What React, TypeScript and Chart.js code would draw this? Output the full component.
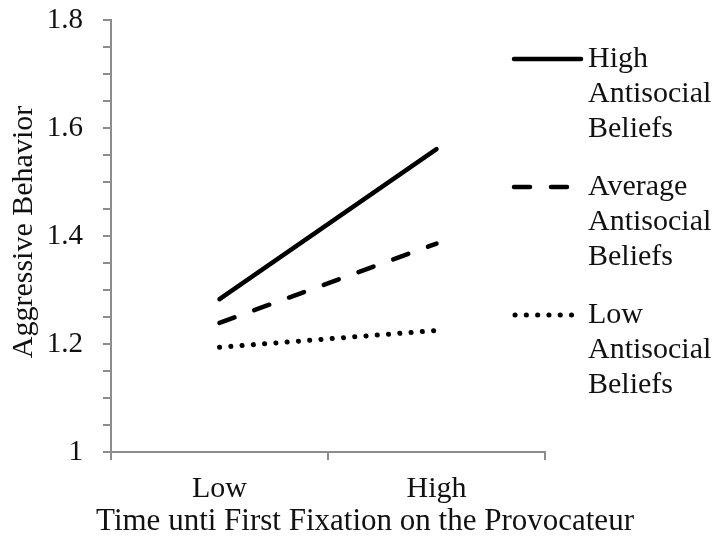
import React, { useEffect, useRef } from "react";
import { Chart, registerables } from "chart.js";

Chart.register(...registerables);

const categories = ["Low", "High"];
const highBeliefs = [1.283, 1.561];
const averageBeliefs = [1.239, 1.386];
const lowBeliefs = [1.194, 1.225];
const seriesLabels = ["High Antisocial Beliefs", "Average Antisocial Beliefs", "Low Antisocial Beliefs"];
const yTitle = "Aggressive Behavior";
const xTitle = "Time unti First Fixation on the Provocateur";

const FONT = "'Liberation Serif', 'Times New Roman', serif";

const legendPlugin = {
  id: "sideLegend",
  afterDraw(chart: any) {
    const ctx = chart.ctx;
    const startY = 59;
    const groupGap = 128;
    const lineGap = 35;
    chart.data.datasets.forEach((ds: any, i: number) => {
      const y = startY + i * groupGap;
      ctx.save();
      ctx.strokeStyle = ds.borderColor;
      ctx.lineWidth = ds.borderWidth;
      ctx.lineCap = ds.borderCapStyle || "butt";
      ctx.setLineDash(ds.borderDash || []);
      ctx.beginPath();
      ctx.moveTo(i === 2 ? 515 : 514, y);
      ctx.lineTo(i === 2 ? 572 : 581, y);
      ctx.stroke();
      ctx.restore();
      ctx.save();
      ctx.fillStyle = "#111";
      ctx.font = `30px ${FONT}`;
      ctx.textBaseline = "middle";
      ctx.textAlign = "left";
      String(ds.label).split(" ").forEach((w: string, j: number) => {
        ctx.fillText(w, 588, y + j * lineGap);
      });
      ctx.restore();
    });
  },
};

const titlesPlugin = {
  id: "axisTitles",
  afterDraw(chart: any) {
    const ctx = chart.ctx;
    ctx.save();
    ctx.fillStyle = "#111";
    ctx.textAlign = "center";
    ctx.textBaseline = "middle";
    ctx.font = `31px ${FONT}`;
    ctx.fillText(xTitle, 365, 522);
    ctx.translate(24, 232);
    ctx.rotate(-Math.PI / 2);
    ctx.font = `30px ${FONT}`;
    ctx.fillText(yTitle, 0, 0);
    ctx.restore();
  },
};

export default function App() {
  const ref = useRef<HTMLCanvasElement | null>(null);
  useEffect(() => {
    document.body.style.margin = "0";
    const canvas = ref.current;
    if (!canvas) return;
    const axisColor = "#8c8c8c";
    const chart = new Chart(canvas, {
      type: "line",
      data: {
        labels: categories,
        datasets: [
          {
            label: seriesLabels[0],
            data: highBeliefs,
            borderColor: "#000",
            borderWidth: 4.5,
            borderCapStyle: "round",
            pointRadius: 0,
          },
          {
            label: seriesLabels[1],
            data: averageBeliefs,
            borderColor: "#000",
            borderWidth: 4.5,
            borderCapStyle: "round",
            borderDash: [16, 21],
            pointRadius: 0,
          },
          {
            label: seriesLabels[2],
            data: lowBeliefs,
            borderColor: "#000",
            borderWidth: 5,
            borderCapStyle: "round",
            borderDash: [0.1, 11.2],
            pointRadius: 0,
          },
        ],
      } as any,
      options: {
        responsive: false,
        animation: false,
        layout: { padding: { top: 20, right: 172, left: 0, bottom: 0 } },
        plugins: { legend: { display: false }, tooltip: { enabled: false } },
        scales: {
          x: {
            type: "category",
            offset: true,
            grid: {
              offset: true,
              drawOnChartArea: false,
              drawTicks: true,
              tickLength: 8,
              color: axisColor,
              lineWidth: 2,
            },
            border: { color: axisColor, width: 2 },
            ticks: { color: "#111", font: { family: FONT, size: 30 }, padding: 11, maxRotation: 0 },
            title: { display: false },
            afterFit(scale: any) {
              scale.height = 101;
              scale.paddingLeft = 0;
              scale.paddingRight = 0;
            },
          },
          y: {
            min: 1,
            max: 1.8,
            grid: {
              drawOnChartArea: false,
              drawTicks: true,
              tickLength: 8,
              color: axisColor,
              lineWidth: 2,
            },
            border: { color: axisColor, width: 2 },
            ticks: {
              stepSize: 0.05,
              autoSkip: false,
              color: "#111",
              font: { family: FONT, size: 29 },
              padding: 20,
              callback: (v: any) => {
                const n = Number(v);
                return Math.abs(n * 5 - Math.round(n * 5)) < 1e-6 ? String(Math.round(n * 10) / 10) : "";
              },
            },
            title: { display: false },
            afterFit(scale: any) {
              scale.width = 111;
              scale.paddingTop = 0;
              scale.paddingBottom = 0;
            },
          },
        },
      } as any,
      plugins: [legendPlugin, titlesPlugin],
    });
    return () => chart.destroy();
  }, []);
  return (
    <div style={{ width: 717, height: 553, background: "#fff" }}>
      <canvas ref={ref} width={717} height={553} style={{ display: "block" }} />
    </div>
  );
}
